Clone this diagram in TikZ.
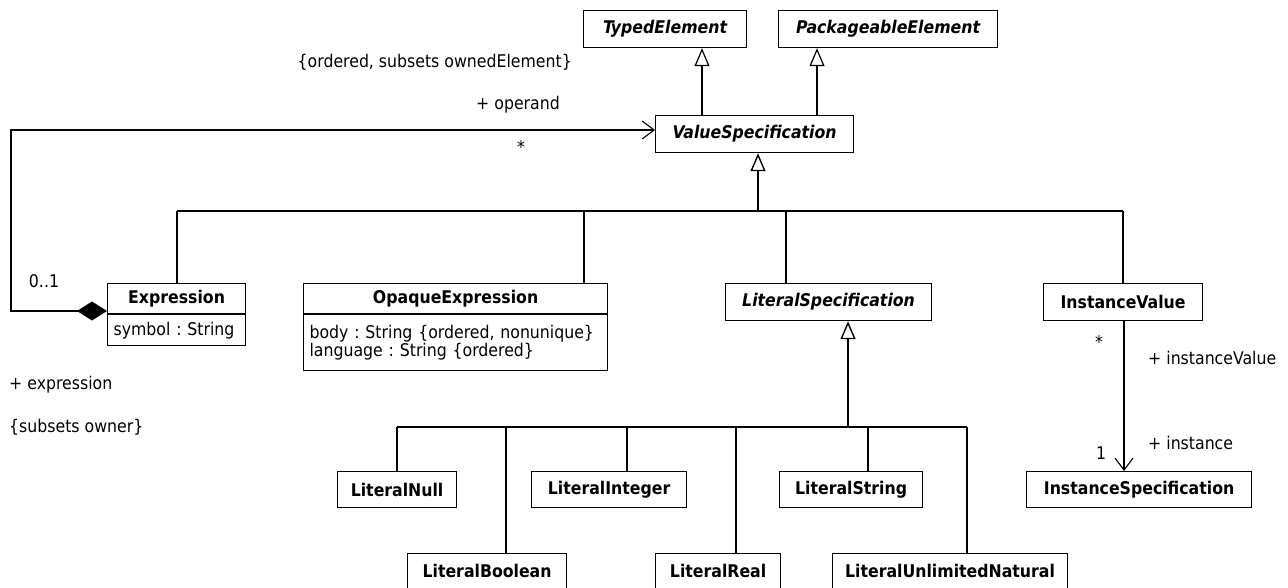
\documentclass[tikz,border=0pt]{standalone}
\usepackage{fontspec}
\setmainfont{DejaVu Sans Condensed}
\usetikzlibrary{arrows.meta}
\frenchspacing
\tikzset{
  lbl/.style={font=\fontsize{17.5}{18}\selectfont, inner sep=0pt},
  cls/.style={draw, line width=1.2pt, fill=white, inner sep=0pt, anchor=north west,
              font=\fontsize{17.5}{18}\selectfont\bfseries},
  attr/.style={draw, line width=1.2pt, fill=white, inner xsep=6pt, inner ysep=0pt, anchor=north west,
              align=left, font=\fontsize{17.5}{18.5}\selectfont},
  gen/.style={line width=1.2pt, -{Triangle[open, length=18pt, width=15pt, line width=1.2pt]}},
  trunk/.style={line width=1.8pt, -{Triangle[open, length=18pt, width=15pt, line width=1.4pt]}},
  branch/.style={line width=1.1pt},
  bar/.style={line width=1.8pt},
  assoc/.style={line width=1.1pt, -{Straight Barb[length=12pt, width=18pt, line width=1.1pt]}},
}
\begin{document}
\begin{tikzpicture}[x=1pt, y=-1pt]
\useasboundingbox (0,0) rectangle (1288,588);

% classes
\node[cls, minimum width=163, minimum height=37] (te) at (583,10) {\itshape TypedElement};
\node[cls, minimum width=219, minimum height=37] (pe) at (778,10) {\itshape PackageableElement};
\node[cls, minimum width=198, minimum height=37] (vs) at (655,115) {\itshape ValueSpecification};

\node[cls, minimum width=138, minimum height=30] (ex) at (107,283) {Expression};
\node[attr, text width=126, minimum height=31] (exa) at (ex.south west) {symbol : String};

\node[cls, minimum width=304, minimum height=30] (op) at (303,283) {OpaqueExpression};
\node[attr, text width=292, minimum height=56] (opa) at (op.south west) {body : String \{ordered, nonunique\}\\language : String \{ordered\}};

\node[cls, minimum width=206, minimum height=37] (ls) at (725,283) {\itshape LiteralSpecification};
\node[cls, minimum width=159, minimum height=37] (iv) at (1043,283) {InstanceValue};
\node[cls, minimum width=225, minimum height=36] (is) at (1026,471) {InstanceSpecification};

\node[cls, minimum width=119, minimum height=36] (lnull) at (337,471) {LiteralNull};
\node[cls, minimum width=155, minimum height=36] (lint) at (531,471) {LiteralInteger};
\node[cls, minimum width=143, minimum height=36] (lstr) at (779,471) {LiteralString};
\node[cls, minimum width=159, minimum height=35] (lbool) at (407,553) {LiteralBoolean};
\node[cls, minimum width=125, minimum height=35] (lreal) at (655,553) {LiteralReal};
\node[cls, minimum width=235, minimum height=35] (lun) at (832,553) {LiteralUnlimitedNatural};

% generalizations to TypedElement / PackageableElement
\coordinate (g1) at (702,115);
\coordinate (g2) at (817,115);
\draw[gen] (g1) -- (g1 |- te.south);
\draw[gen] (g2) -- (g2 |- pe.south);

% ValueSpecification hierarchy
\coordinate (j0) at (758,211);
\coordinate (bL) at (177,211);
\coordinate (bO) at (584,211);
\coordinate (bS) at (786,211);
\coordinate (bR) at (1123,211);
\draw[bar] (bL) -- (j0);
\draw[branch] (j0) -- (bR);
\draw[trunk] (j0) -- (j0 |- vs.south);
\draw[branch] (bL) -- (bL |- ex.north);
\draw[branch] (bO) -- (bO |- op.north);
\draw[branch] (bS) -- (bS |- ls.north);
\draw[branch] (bR) -- (bR |- iv.north);

% LiteralSpecification hierarchy
\coordinate (k0) at (848,427);
\coordinate (k1) at (397,427);
\coordinate (k2) at (506,427);
\coordinate (k3) at (627,427);
\coordinate (k4) at (736,427);
\coordinate (k5) at (868,427);
\coordinate (k6) at (967,427);
\draw[bar] (k1) -- (k6);
\draw[trunk] (k0) -- (k0 |- ls.south);
\draw[branch] (k1) -- (k1 |- lnull.north);
\draw[branch] (k2) -- (k2 |- lbool.north);
\draw[branch] (k3) -- (k3 |- lint.north);
\draw[branch] (k4) -- (k4 |- lreal.north);
\draw[branch] (k5) -- (k5 |- lstr.north);
\draw[branch] (k6) -- (k6 |- lun.north);

% composition Expression -> operand
\coordinate (c0) at (107,311);
\coordinate (c1) at (11,311);
\coordinate (c2) at (11,130);
\draw[line width=1.1pt, {Diamond[length=30pt, width=19pt, fill=black]}-{Straight Barb[length=12pt, width=18pt, line width=1.1pt]}]
  (c0) -- (c1) -- (c2) -- (c2 -| vs.west);

% association InstanceValue -> InstanceSpecification
\coordinate (a0) at (1124,320);
\draw[assoc] (a0) -- (a0 |- is.north);

% labels
\node[lbl, anchor=east] (t1) at (572,62) {\{ordered, subsets ownedElement\}};
\node[lbl, anchor=east] (t2) at (560,105) {+ operand};
\node[lbl] (t3) at (521,147) {*};
\node[lbl] (t4) at (44,281) {0..1};
\node[lbl, anchor=west] (t5) at (9,385) {+ expression};
\node[lbl, anchor=west] (t6) at (9,427) {\{subsets owner\}};
\node[lbl] (t7) at (1099,342) {*};
\node[lbl, anchor=west] (t8) at (1148,358) {+ instanceValue};
\node[lbl, anchor=west] (t9) at (1148,443) {+ instance};
\node[lbl] (t10) at (1101,453) {1};
\end{tikzpicture}
\end{document}
